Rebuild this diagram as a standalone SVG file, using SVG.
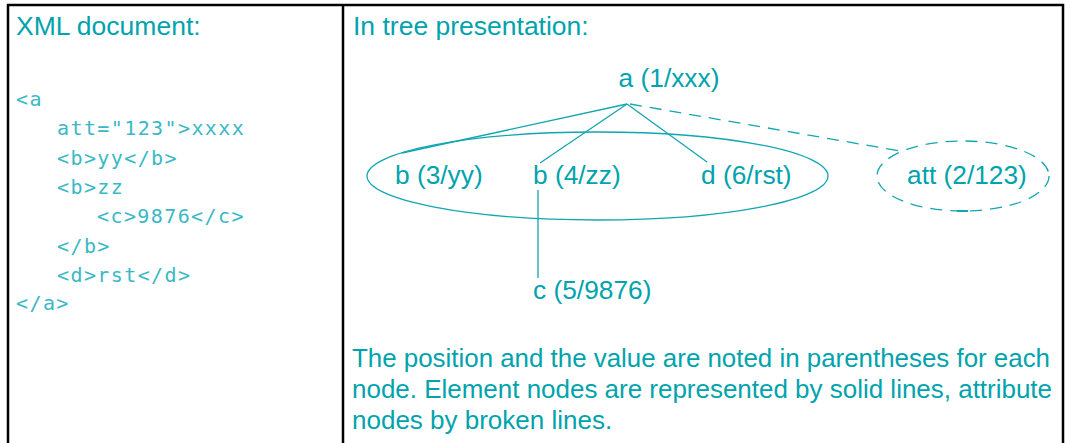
<svg xmlns="http://www.w3.org/2000/svg" width="1070" height="443" viewBox="0 0 1070 443">
<style>
.hd{font-family:"Liberation Sans",Arial,sans-serif;font-size:26.5px;fill:#00A3AD}
.code{font-family:"DejaVu Sans Mono","Liberation Mono",monospace;font-size:20px;fill:#3AB8C6;letter-spacing:1.4px}
.lbl{font-family:"Liberation Sans",Arial,sans-serif;font-size:26.3px;fill:#00A3AD}
.txt{font-family:"Liberation Sans",Arial,sans-serif;font-size:26px;fill:#00A3AD}
.ln{stroke:#11A6B1;stroke-width:1.3;fill:none}
.dash{stroke-dasharray:12 8}
</style>
<rect x="8" y="5" width="1055" height="445" fill="#fff" stroke="#000" stroke-width="2.5"/>
<line x1="343" y1="5" x2="343" y2="443" stroke="#000" stroke-width="2.5"/>
<g id="xml-panel">
<text class="hd" x="16" y="35">XML document:</text>
<text class="code" x="16" y="106">&lt;a</text>
<text class="code" x="57" y="135">att="123"&gt;xxxx</text>
<text class="code" x="57" y="165">&lt;b&gt;yy&lt;/b&gt;</text>
<text class="code" x="57" y="194">&lt;b&gt;zz</text>
<text class="code" x="97" y="223">&lt;c&gt;9876&lt;/c&gt;</text>
<text class="code" x="57" y="253">&lt;/b&gt;</text>
<text class="code" x="57" y="282">&lt;d&gt;rst&lt;/d&gt;</text>
<text class="code" x="16" y="310">&lt;/a&gt;</text>
</g>
<text class="hd" x="353" y="35">In tree presentation:</text>
<g id="connectors">
<line class="ln" x1="627" y1="104" x2="402" y2="153"/>
<line class="ln" x1="627" y1="104" x2="540" y2="163"/>
<line class="ln" x1="627" y1="104" x2="707" y2="162"/>
<line class="ln dash" x1="630" y1="104" x2="900" y2="151"/>
<line class="ln" x1="538" y1="190" x2="538" y2="278" stroke-width="1.6"/>
</g>
<g id="element-group"><ellipse class="ln" cx="597.5" cy="176" rx="230.5" ry="44"/></g>
<g id="attribute-group"><ellipse class="ln dash" cx="963" cy="176" rx="86" ry="35"/><line x1="957" y1="211" x2="968" y2="211" stroke="#11A6B1" stroke-width="2"/></g>
<g id="node-a"><text class="lbl" x="669" y="87" text-anchor="middle">a (1/xxx)</text></g>
<g id="node-b3"><text class="lbl" x="395" y="184">b (3/yy)</text></g>
<g id="node-b4"><text class="lbl" x="533" y="184">b (4/zz)</text></g>
<g id="node-d6"><text class="lbl" x="701" y="184">d (6/rst)</text></g>
<g id="node-att"><text class="lbl" x="907" y="184">att (2/123)</text></g>
<g id="node-c5"><text class="lbl" x="533" y="299">c (5/9876)</text></g>
<g id="note">
<text class="txt" x="352" y="367" textLength="698" lengthAdjust="spacingAndGlyphs">The position and the value are noted in parentheses for each</text>
<text class="txt" x="352" y="398" textLength="700" lengthAdjust="spacingAndGlyphs">node. Element nodes are represented by solid lines, attribute</text>
<text class="txt" x="352" y="429">nodes by broken lines.</text>
</g>
</svg>
